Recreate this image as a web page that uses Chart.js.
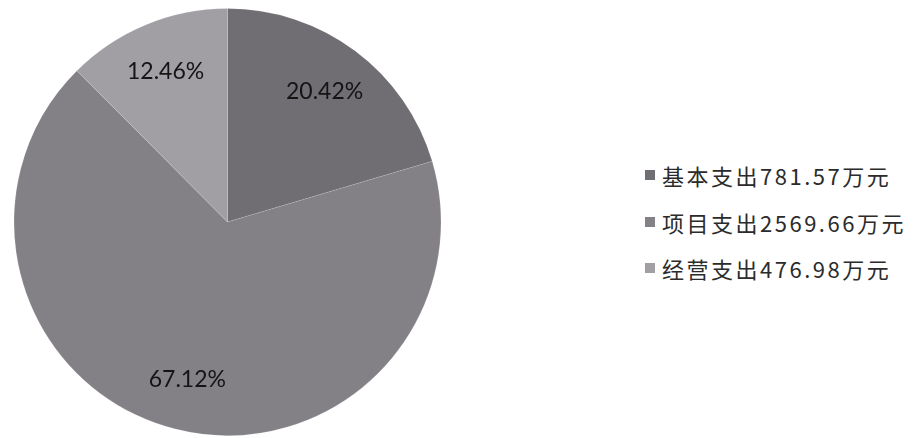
<!DOCTYPE html>
<html>
<head>
<meta charset="utf-8">
<script src="https://cdn.jsdelivr.net/npm/chart.js@4/dist/chart.umd.min.js"></script>
<style>
    html, body { margin: 0; padding: 0; background: #ffffff; }
    #wrap { position: relative; width: 920px; height: 438px; }
    #pieBox { position: absolute; left: 0; top: 0; width: 456px; height: 438px; }
    #legend {
        position: absolute; left: 645px; top: 152px;
        list-style: none; margin: 0; padding: 0;
        font-family: 'Noto Sans CJK SC', sans-serif; font-size: 22px;
        letter-spacing: 2.5px; color: #2b2b2b;
    }
    #legend li { display: flex; align-items: center; height: 46.5px; }
    #legend .box { width: 10px; height: 10px; margin-right: 7px; }
</style>
</head>
<body>
<div id="wrap">
    <div id="pieBox"><canvas id="expensePie"></canvas></div>
    <ul id="legend"></ul>
</div>
<script>
// ─── Data ──────────────────────────────────────────────────────────────
const categories = ['基本支出', '项目支出', '经营支出'];
const amounts    = [781.57, 2569.66, 476.98];   // 万元
const unit       = '万元';
const sliceColors = ['#706d73', '#838186', '#a19fa4'];

const total = amounts.reduce((a, b) => a + b, 0);
const percentLabels = amounts.map(v => (v / total * 100).toFixed(2) + '%');

// ─── Plugin: percentage text inside each slice ──────────────────────────
const sliceLabels = {
    id: 'sliceLabels',
    afterDatasetsDraw(chart) {
        const ctx = chart.ctx;
        const meta = chart.getDatasetMeta(0);
        ctx.save();
        ctx.font = "23px Lato, 'Open Sans', sans-serif";
        ctx.fillStyle = '#141414';
        ctx.textAlign = 'center';
        ctx.textBaseline = 'middle';
        meta.data.forEach((arc, i) => {
            const p = arc.getProps(['startAngle', 'endAngle', 'outerRadius', 'x', 'y'], true);
            const mid = (p.startAngle + p.endAngle) / 2;
            const r = p.outerRadius * 0.76;
            ctx.fillText(percentLabels[i], p.x + Math.cos(mid) * r, p.y + Math.sin(mid) * r);
        });
        ctx.restore();
    }
};

const chart = new Chart(document.getElementById('expensePie'), {
    type: 'pie',
    data: {
        labels: categories,
        datasets: [{
            data: amounts,
            backgroundColor: sliceColors,
            borderColor: 'rgba(255,255,255,0.12)',
            borderWidth: 1
        }]
    },
    options: {
        responsive: true,
        maintainAspectRatio: false,
        animation: false,
        layout: { padding: { left: 13, right: 14, top: 8, bottom: 2 } },
        plugins: {
            legend: { display: false },
            tooltip: { enabled: false }
        }
    },
    plugins: [sliceLabels]
});

// ─── HTML legend built from the chart's data ───────────────────────────
const legendEl = document.getElementById('legend');
categories.forEach((name, i) => {
    const li = document.createElement('li');
    const box = document.createElement('span');
    box.className = 'box';
    box.style.background = sliceColors[i];
    const txt = document.createElement('span');
    txt.textContent = name + amounts[i].toFixed(2) + unit;
    li.appendChild(box);
    li.appendChild(txt);
    legendEl.appendChild(li);
});
</script>
</body>
</html>
